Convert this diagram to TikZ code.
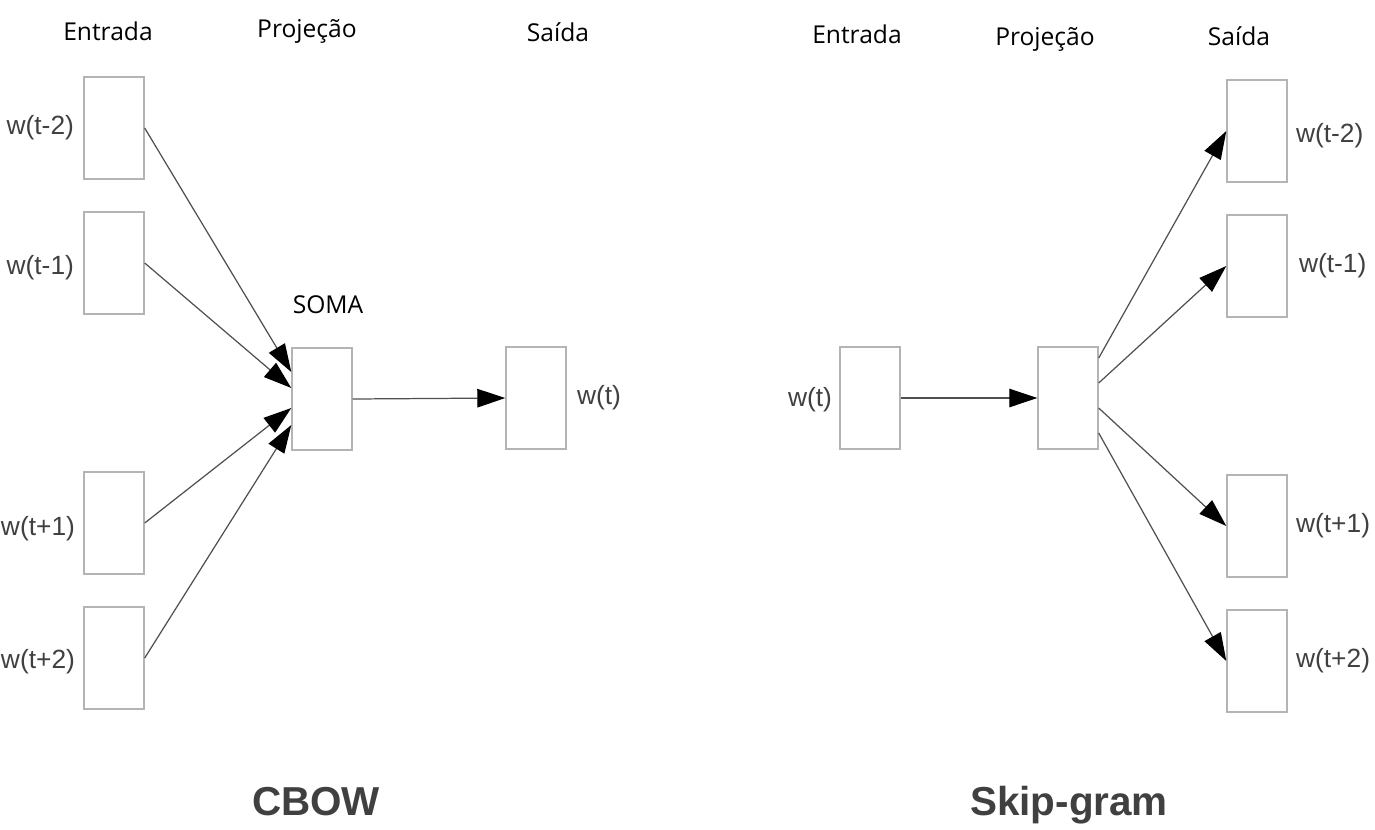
\documentclass[tikz,border=0pt]{standalone}
\usepackage{fontspec}
\setmainfont{Open Sans}
\newfontfamily\wfont{Liberation Sans}
\usetikzlibrary{positioning,arrows.meta}
\definecolor{boxgray}{HTML}{B4B4B4}
\definecolor{linegray}{HTML}{505050}
\definecolor{txtgray}{HTML}{404040}

\begin{document}
\begin{tikzpicture}[
    x=0.2mm, y=-0.2mm,
    box/.style={rectangle, draw=boxgray, line width=0.8pt, minimum width=1.2cm, minimum height=2.04cm, inner sep=0pt},
    wlbl/.style={font=\wfont\fontsize{15}{17}\selectfont, text=txtgray, inner sep=0pt},
    hdr/.style={font=\fontsize{14}{16}\selectfont, inner sep=0pt, anchor=base},
    ttl/.style={font=\wfont\bfseries\fontsize{23}{26}\selectfont, text=txtgray, inner sep=0pt, anchor=base},
    arrow/.style={draw=linegray, line width=0.7pt, -{Triangle[length=5.6mm, width=3.7mm, color=black]}}
]
\useasboundingbox (0,0) rectangle (1375,829);

% CBOW
\node[hdr] (hin) at (108,40) {Entrada};
\node[hdr] (hproj) at (307,37) {Projeção};
\node[hdr] (hout) at (558,41) {Saída};

\node[box] (cin1) at (114,128) {};
\node[box] (cin2) at (114,263) {};
\node[box] (cin3) at (114,523) {};
\node[box] (cin4) at (114,658) {};
\node[box] (cproj) at (322,399) {};
\node[box] (cout) at (536,398) {};

\node[wlbl, left=1.8mm of cin1] (lcin1) {w(t-2)};
\node[wlbl, left=1.8mm of cin2, yshift=-1mm] (lcin2) {w(t-1)};
\node[wlbl, left=1.6mm of cin3, yshift=-1.2mm] (lcin3) {w(t+1)};
\node[wlbl, left=1.6mm of cin4, yshift=-0.8mm] (lcin4) {w(t+2)};
\node[wlbl, right=2mm of cout] (lcout) {w(t)};
\node[hdr] (soma) at (328,313) {SOMA};

\draw[arrow] (cin1.east) -- ([yshift=5.4mm]cproj.west);
\draw[arrow] (cin2.east) -- ([yshift=2.2mm]cproj.west);
\draw[arrow] (cin3.east) -- ([yshift=-1.8mm]cproj.west);
\draw[arrow] (cin4.east) -- ([yshift=-5.2mm]cproj.west);
\draw[arrow] (cproj.east) -- (cout.west);

\node[ttl] (tcbow) at (316,815) {CBOW};

% Skip-gram
\node[hdr] (shin) at (857,43) {Entrada};
\node[hdr] (shproj) at (1045,45) {Projeção};
\node[hdr] (shout) at (1239,45) {Saída};

\node[box] (sin) at (870,398) {};
\node[box] (sproj) at (1068,398) {};
\node[box] (sout1) at (1257,131) {};
\node[box] (sout2) at (1257,266) {};
\node[box] (sout3) at (1257,526) {};
\node[box] (sout4) at (1257,661) {};

\node[wlbl, left=1.4mm of sin, yshift=-0.4mm] (lsin) {w(t)};
\node[wlbl, right=1.6mm of sout1, yshift=-1mm] (lsout1) {w(t-2)};
\node[wlbl, right=2.2mm of sout2] (lsout2) {w(t-1)};
\node[wlbl, right=1.6mm of sout3] (lsout3) {w(t+1)};
\node[wlbl, right=1.6mm of sout4] (lsout4) {w(t+2)};

\draw[arrow] (sin.east) -- (sproj.west);
\draw[arrow] ([yshift=8mm]sproj.east) -- (sout1.west);
\draw[arrow] ([yshift=3mm]sproj.east) -- (sout2.west);
\draw[arrow] ([yshift=-2mm]sproj.east) -- (sout3.west);
\draw[arrow] ([yshift=-7mm]sproj.east) -- (sout4.west);

\node[ttl] (tskip) at (1069,815) {Skip-gram};

\end{tikzpicture}
\end{document}
